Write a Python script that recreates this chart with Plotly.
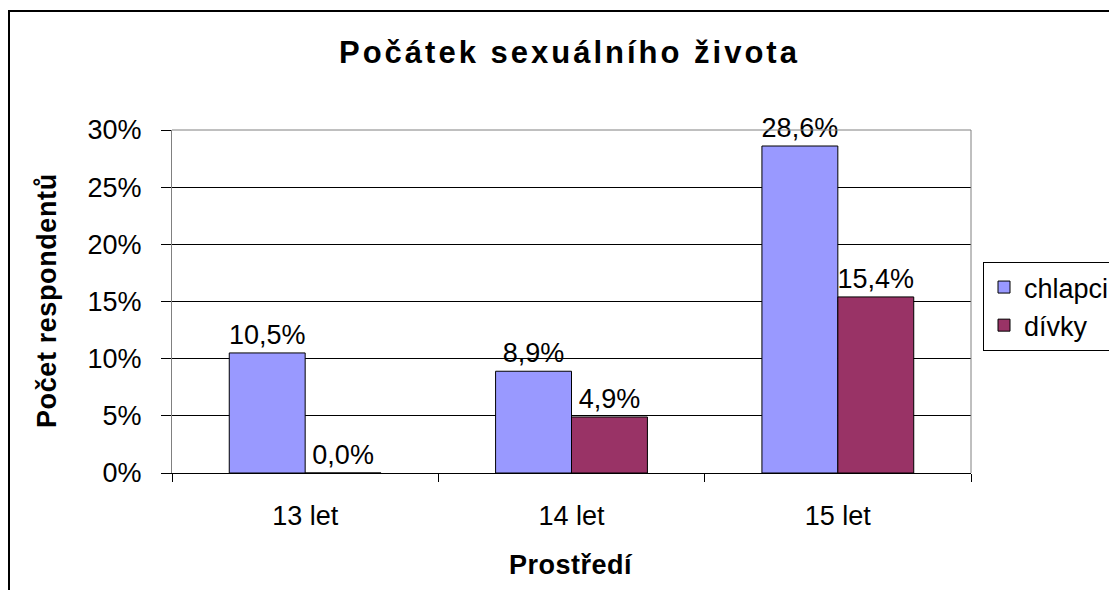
import plotly.graph_objects as go

categories = ["13 let", "14 let", "15 let"]
chlapci = [10.5, 8.9, 28.6]
divky = [0.0, 4.9, 15.4]
series_names = ["chlapci", "dívky"]
y_tickvals = [0, 5, 10, 15, 20, 25, 30]
y_ticktext = ["0%", "5%", "10%", "15%", "20%", "25%", "30%"]
title_text = "Počátek sexuálního života"
x_title = "Prostředí"
y_title = "Počet respondentů"

def fmt(v):
    return f"{v:.1f}%".replace(".", ",")

FONT = "Liberation Sans, Arial, sans-serif"
OFF = 8  # default page body margin
W, H = 1117 - 2 * OFF, 598 - 2 * OFF
# plot area in reference pixel coordinates: x 172..971, y 130..473
L = 172 - OFF
T = 130 - OFF
R = W - (971 - OFF)
B = H - (473 - OFF)
PW, PH = W - L - R, H - T - B

def px(x):
    return (x - OFF - L) / PW

def py(y):
    return (H - B - (y - OFF)) / PH

fig = go.Figure()
for name, vals, color in [(series_names[0], chlapci, "#9999FF"), (series_names[1], divky, "#993366")]:
    fig.add_trace(go.Bar(
        x=categories, y=vals, name=name,
        marker=dict(color=color, line=dict(color="#000000", width=1)),
        text=[fmt(v) for v in vals], textposition="outside",
        textfont=dict(family=FONT, size=27, color="#000000"),
        constraintext="none", cliponaxis=False,
    ))

fig.update_layout(
    width=W, height=H,
    margin=dict(l=L, r=R, t=T, b=B, autoexpand=False),
    paper_bgcolor="white", plot_bgcolor="white",
    barmode="group", bargap=0.43, bargroupgap=0,
    font=dict(family=FONT, size=27, color="#000000"),
    showlegend=True,
    legend=dict(
        x=px(983), y=py(262), xanchor="left", yanchor="top",
        bordercolor="#000000", borderwidth=1, bgcolor="white",
        font=dict(family=FONT, size=27, color="#000000"),
        tracegroupgap=0,
    ),
    xaxis=dict(
        type="category", showgrid=False, tickson="boundaries",
        ticks="outside", ticklen=8, tickcolor="#000000",
        showline=True, linecolor="#000000", linewidth=1,
        tickfont=dict(family=FONT, size=27), ticklabelstandoff=19,
        mirror=False, zeroline=False, automargin=False,
    ),
    yaxis=dict(
        range=[0, 30], tickvals=y_tickvals, ticktext=y_ticktext,
        showgrid=True, gridcolor="#000000", gridwidth=1,
        ticks="outside", ticklen=10, tickcolor="#000000",
        showline=True, linecolor="#808080", linewidth=1,
        tickfont=dict(family=FONT, size=27), ticklabelstandoff=14,
        zeroline=False, automargin=False,
    ),
    shapes=[
        dict(type="line", xref="paper", yref="paper", x0=0, x1=1, y0=1, y1=1,
             line=dict(color="#808080", width=1)),
        dict(type="line", xref="paper", yref="paper", x0=1, x1=1, y0=0, y1=1,
             line=dict(color="#808080", width=1)),
        dict(type="rect", xref="paper", yref="paper",
             x0=px(9), x1=px(1140), y0=py(11), y1=py(640),
             line=dict(color="#000000", width=2)),
    ],
    annotations=[
        dict(text=f"<b><span style='letter-spacing:3px'>{title_text}</span></b>",
             xref="paper", yref="paper",
             x=px(569), y=py(53), showarrow=False, xanchor="center", yanchor="middle",
             font=dict(family=FONT, size=31, color="#000000")),
        dict(text=f"<b><span style='letter-spacing:0.5px'>{x_title}</span></b>",
             xref="paper", yref="paper",
             x=px(571), y=py(565), showarrow=False, xanchor="center", yanchor="middle",
             font=dict(family=FONT, size=27, color="#000000")),
        dict(text=f"<b><span style='letter-spacing:0.6px'>{y_title}</span></b>",
             xref="paper", yref="paper",
             x=px(47), y=py(301), showarrow=False, xanchor="center", yanchor="middle",
             textangle=-90, font=dict(family=FONT, size=27, color="#000000")),
    ],
)

fig.write_html("out.html")
